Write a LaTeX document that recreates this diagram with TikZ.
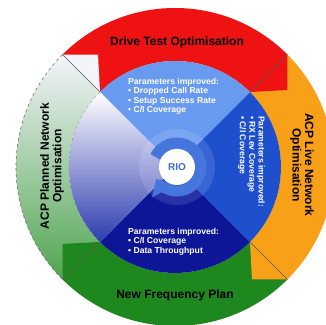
\documentclass[tikz,border=0pt]{standalone}
\usepackage{fontspec}
\setmainfont{Liberation Sans}
\usepackage{tikz}
\usetikzlibrary{calc,arrows.meta,positioning}
\definecolor{drivered}{RGB}{238,18,18}
\definecolor{liveorange}{RGB}{248,160,24}
\definecolor{freqgreen}{RGB}{30,135,30}
\definecolor{plangreen}{RGB}{80,165,80}
\definecolor{paleviolet}{RGB}{244,244,251}
\definecolor{topblue}{RGB}{104,154,240}
\definecolor{rightblue}{RGB}{30,80,205}
\definecolor{navyblue}{RGB}{12,22,150}
\definecolor{leftblue}{RGB}{45,60,175}
\definecolor{lavmid}{RGB}{200,200,234}
\definecolor{ringblue}{RGB}{70,118,220}
\definecolor{riotext}{RGB}{60,110,210}

\begin{document}
\begin{tikzpicture}[x=1pt,y=1pt]

\tikzset{bandlabel/.style={font=\fontsize{12}{12.5}\selectfont\bfseries,align=center,text=black,inner sep=0pt},
paramtext/.style={font=\fontsize{8.6}{9.3}\selectfont\bfseries,align=left,text=white,inner sep=0pt,anchor=north west},
divider/.style={draw=black!65,line width=0.5pt},
dashline/.style={draw=black!55,dashed,line width=0.6pt}}

\def\Ri{106} \def\Ro{159}

% Frame
\useasboundingbox (-175,-157) rectangle (151,167);
\clip (-175,-157) rectangle (151,167);
\coordinate (hub) at (2,0);

% Outer ring
\fill[drivered] (45:\Ro) arc[start angle=45,end angle=135,radius=\Ro] -- (135:\Ri) arc[start angle=135,end angle=45,radius=\Ri] -- cycle;
\fill[liveorange] (-45:\Ro) arc[start angle=-45,end angle=45,radius=\Ro] -- (45:\Ri) arc[start angle=45,end angle=-45,radius=\Ri] -- cycle;
\fill[freqgreen] (-135:\Ro) arc[start angle=-135,end angle=-45,radius=\Ro] -- (-45:\Ri) arc[start angle=-45,end angle=-135,radius=\Ri] -- cycle;
\shade[top color=paleviolet,middle color=paleviolet!70!plangreen,bottom color=plangreen] (135:\Ro) arc[start angle=135,end angle=225,radius=\Ro] -- (225:\Ri) arc[start angle=225,end angle=135,radius=\Ri] -- cycle;

% Notches
\fill[drivered] (45:\Ro) -- (112.4,77) -- (45:\Ri) -- cycle;
\fill[liveorange] (-45:\Ro) -- (77,-112.4) -- (-45:\Ri) -- cycle;
\fill[freqgreen] (-135:\Ro) -- (-112.4,-77) -- (-135:\Ri) -- cycle;
\fill[paleviolet] (135:\Ro) -- (-77,112.4) -- (135:\Ri) -- cycle;

% Dividers
\foreach \a in {45,135,225,315} \draw[divider] (\a:\Ri) -- (\a:\Ro);
\draw[dashline] (135:\Ro) arc[start angle=135,end angle=225,radius=\Ro];
\draw[dashline] (135:\Ri) arc[start angle=135,end angle=225,radius=\Ri];

% Inner quadrants
\fill[topblue] (0,0) -- (45:\Ri) arc[start angle=45,end angle=135,radius=\Ri] -- cycle;
\fill[rightblue] (0,0) -- (-45:\Ri) arc[start angle=-45,end angle=45,radius=\Ri] -- cycle;
\fill[navyblue] (0,0) -- (-135:\Ri) arc[start angle=-135,end angle=-45,radius=\Ri] -- cycle;
\shade[top color=white,middle color=lavmid,bottom color=leftblue] (0,0) -- (135:\Ri) arc[start angle=135,end angle=225,radius=\Ri] -- cycle;

% Hub arrow
\fill[white,opacity=0.12] (hub) circle[radius=38];
\draw[ringblue,line width=11pt,-{Triangle[width=25pt,length=14pt]}] ($(hub)+(155:24)$) arc[start angle=155,end angle=-150,radius=24];
\fill[white] (hub) circle[radius=18];
\node[font=\fontsize{10}{10}\selectfont\bfseries,text=riotext] (rio) at (hub) {RIO};

% Band labels
\node[bandlabel] (drive) at (2,125) {Drive Test Optimisation};
\node[bandlabel] (freq) at (0,-128) {New Frequency Plan};
\node[bandlabel,rotate=-90] (live) at (127,2) {ACP Live Network\\Optimisation};
\node[bandlabel,rotate=90] (planned) at (-123,1) {ACP Planned Network\\Optimisation};

% Parameters
\node[paramtext] (ptop) at (-47,89) {Parameters improved:\\• Dropped Call Rate\\• Setup Success Rate\\• C/I Coverage};
\node[paramtext] (pbottom) at (-47,-61) {Parameters improved:\\• C/I Coverage\\• Data Throughput};
\node[paramtext,rotate=-90] (pright) at (90,51) {Parameters improved:\\• RX Lev Coverage\\• C/I Coverage};

\end{tikzpicture}
\end{document}
